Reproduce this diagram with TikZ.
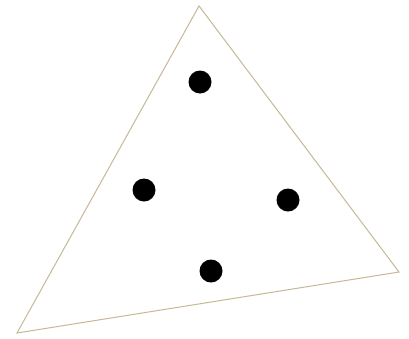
\documentclass[tikz,border=0pt]{standalone}
\usepackage{tikz}
\usetikzlibrary{calc,positioning}
\definecolor{edgetan}{RGB}{196,184,150}

\begin{document}
\begin{tikzpicture}[x=1pt, y=-1pt,
  dot/.style={circle, fill=black, inner sep=0pt, minimum size=23pt},
  side/.style={draw=edgetan, line width=1pt, line join=miter}
]
\useasboundingbox (0,0) rectangle (409,338);

% Triangle corners
\coordinate (top) at (199,6);
\coordinate (left) at (17,333);
\coordinate (right) at (399,272);

\draw[side] (top) -- (right) -- (left) -- cycle;

% Dots
\node[dot] (d1) at (200,82) {};
\node[dot] (d2) at (144,190) {};
\node[dot] (d3) at (288,200) {};
\node[dot] (d4) at (211,271) {};

\end{tikzpicture}
\end{document}
